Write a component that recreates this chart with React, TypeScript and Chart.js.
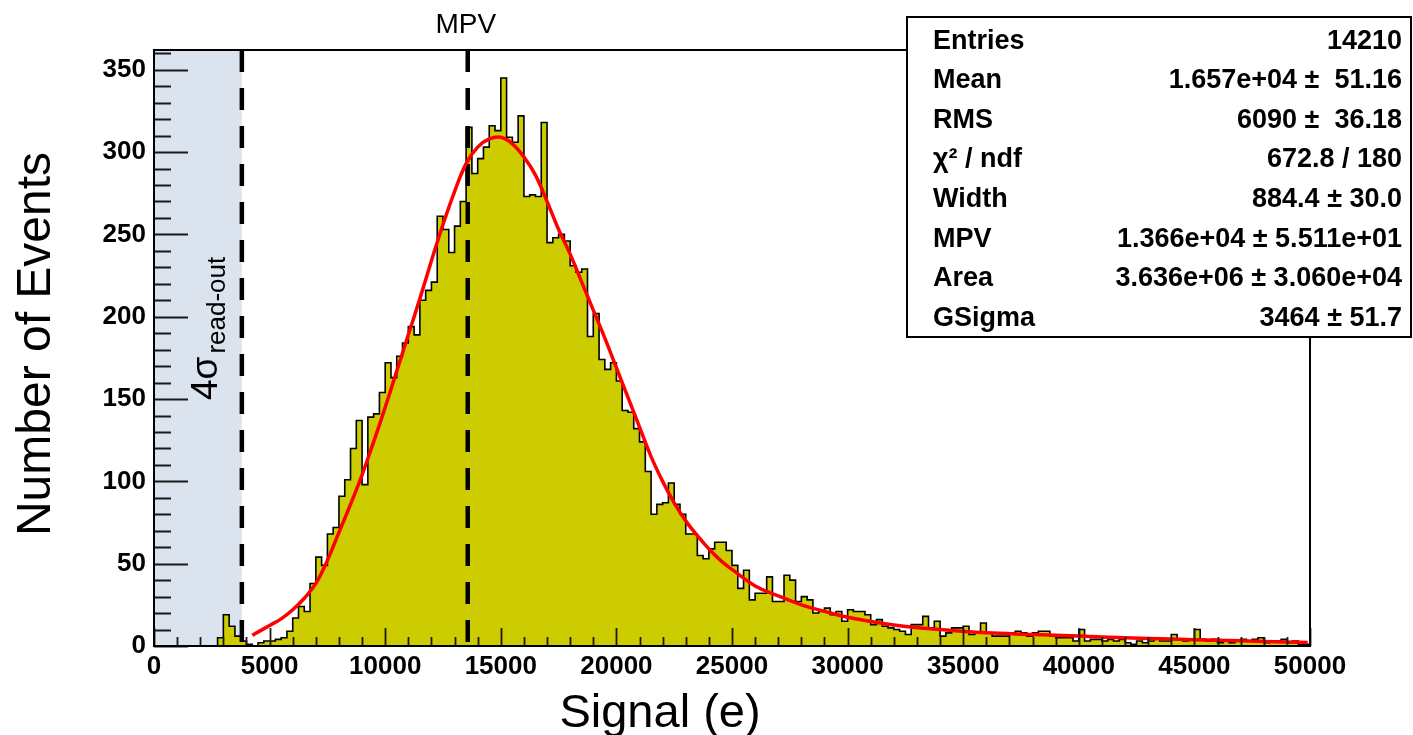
import React, { useEffect, useRef } from 'react';
import { Chart, registerables } from 'chart.js';

Chart.register(...registerables);

// ---------- data ----------
const BIN_WIDTH = 250;
const X_MIN = 0;
const X_MAX = 50000;
const Y_MAX = 362;

// counts per 250 e bin, 0 .. 50000
const counts: number[] = [
  0, 0, 0, 0, 0, 0, 0, 0, 0, 0, 0,
  5, 19, 12, 6, 3, 1, 0, 2, 3, 3,
  4, 5, 9, 17, 24, 21, 38, 54, 49, 68,
  72, 91, 101, 120, 137, 98, 139, 141, 154, 172,
  163, 176, 184, 194, 189, 210, 216, 221, 261, 253,
  239, 255, 270, 315, 287, 296, 303, 316, 313, 345,
  309, 306, 322, 273, 274, 273, 318, 245, 248, 250,
  246, 231, 227, 229, 188, 202, 174, 168, 172, 161,
  143, 142, 132, 124, 106, 80, 86, 87, 99, 86,
  80, 68, 68, 55, 53, 59, 63, 63, 58, 49,
  35, 46, 28, 32, 32, 42, 27, 27, 43, 40,
  27, 30, 28, 20, 21, 23, 19, 21, 15, 22,
  21, 21, 19, 13, 16, 12, 11, 10, 9, 7,
  13, 13, 18, 11, 15, 6, 8, 11, 11, 12,
  7, 8, 14, 8, 6, 6, 6, 8, 9, 8,
  6, 8, 9, 9, 6, 5, 5, 5, 3, 10,
  3, 4, 4, 3, 4, 3, 4, 2, 1, 3,
  2, 3, 5, 3, 3, 7, 4, 3, 4, 10,
  4, 3, 4, 2, 3, 2, 3, 4, 3, 4,
  5, 2, 3, 3, 4, 2, 3, 1, 1,
];

// Landau (x) Gauss fit curve
const fitX: number[] = [
  4250, 5000, 5500, 6000, 6500, 7000, 7500, 8000, 8500, 9000,
  9500, 10000, 10500, 11000, 11500, 12000, 12500, 13000, 13500, 14000, 14500,
  15000, 15500, 16000, 16500, 17000, 17500, 18000, 18500, 19000, 19500,
  20000, 20500, 21000, 21500, 22000, 22500, 23000, 23500, 24000, 24500, 25000,
  26000, 27000, 28000, 29000, 30000,
  32000, 34000, 36000, 38000, 40000, 42000, 44000, 46000, 48000, 49900,
];
const fitY: number[] = [
  6.5, 12.5, 16.5, 22, 29, 38, 52, 69, 86, 104,
  124, 145, 167, 189, 211, 234, 256, 276, 293, 303, 308,
  309, 305, 297, 286, 270, 253, 238, 221, 204, 187,
  169, 151, 133, 115, 100, 87, 76, 67, 59, 52, 46.5,
  36.5, 30.5, 25, 21, 17.5,
  12.8, 10, 8, 7, 6, 5, 4.2, 3.5, 2.8, 2.2,
];

const readoutCut = 3800; // 4 sigma read-out threshold
const mpvLine = 13570;

const statLabels: string[] = ['Entries', 'Mean', 'RMS', 'χ² / ndf', 'Width', 'MPV', 'Area', 'GSigma'];
const statValues: string[] = [
  '14210',
  '1.657e+04 ±  51.16',
  '6090 ±  36.18',
  '672.8 / 180',
  '884.4 ± 30.0',
  '1.366e+04 ± 5.511e+01',
  '3.636e+06 ± 3.060e+04',
  '3464 ± 51.7',
];

const xTitle = 'Signal (e)';
const yTitle = 'Number of Events';
const mpvText = 'MPV';

// ---------- styles ----------
const FONT = '"Liberation Sans", Arial, Helvetica, sans-serif';
const HIST_FILL = 'rgb(204,204,0)';
const SHADE = '#dae3ee';

const decor = {
  id: 'decor',
  beforeDatasetsDraw(chart: any) {
    const { ctx, chartArea: a, scales } = chart;
    const xr = scales.x.getPixelForValue(readoutCut);
    ctx.save();
    ctx.fillStyle = SHADE;
    ctx.fillRect(a.left, a.top, xr - a.left, a.bottom - a.top);
    ctx.restore();
  },
  beforeDatasetDraw(chart: any, args: any) {
    if (args.index !== 0) return;
    const { ctx, chartArea: a, scales } = chart;
    ctx.save();
    ctx.strokeStyle = '#000';
    ctx.lineWidth = 4.5;
    ctx.setLineDash([22, 16]);
    [readoutCut, mpvLine].forEach((v) => {
      const px = scales.x.getPixelForValue(v);
      ctx.beginPath();
      ctx.moveTo(px, a.top);
      ctx.lineTo(px, a.bottom);
      ctx.stroke();
    });
    ctx.restore();
  },
  afterDatasetsDraw(chart: any) {
    const { ctx, chartArea: a, scales } = chart;
    const x = scales.x;
    const y = scales.y;
    ctx.save();
    ctx.strokeStyle = '#1a1a1a';
    ctx.lineWidth = 1.8;
    ctx.beginPath();
    for (let v = X_MIN; v <= X_MAX; v += 1000) {
      const px = Math.round(x.getPixelForValue(v)) + 0.5;
      const len = v % 5000 === 0 ? 18 : 9;
      ctx.moveTo(px, a.bottom);
      ctx.lineTo(px, a.bottom - len);
    }
    for (let v = 0; v <= 360; v += 10) {
      const py = Math.round(y.getPixelForValue(v)) + 0.5;
      const len = v % 50 === 0 ? 34 : 17;
      ctx.moveTo(a.left, py);
      ctx.lineTo(a.left + len, py);
    }
    ctx.stroke();
    ctx.strokeStyle = '#000';
    ctx.lineWidth = 2;
    ctx.strokeRect(a.left, a.top, a.right - a.left, a.bottom - a.top);
    ctx.restore();
  },
  afterDraw(chart: any) {
    const { ctx, scales } = chart;
    ctx.save();
    ctx.fillStyle = '#000';
    // axis titles
    ctx.font = `47px ${FONT}`;
    ctx.textAlign = 'center';
    ctx.textBaseline = 'alphabetic';
    ctx.fillText(xTitle, 660, 727);
    ctx.save();
    ctx.font = `48px ${FONT}`;
    ctx.translate(50, 344);
    ctx.rotate(-Math.PI / 2);
    ctx.fillText(yTitle, 0, 0);
    ctx.restore();

    // MPV label
    ctx.font = `28px ${FONT}`;
    ctx.textAlign = 'center';
    ctx.fillText(mpvText, scales.x.getPixelForValue(mpvLine) - 2, 33);

    // 4 sigma read-out label
    ctx.save();
    ctx.translate(217, 400);
    ctx.rotate(-Math.PI / 2);
    ctx.textAlign = 'left';
    ctx.font = `37px ${FONT}`;
    ctx.fillText('4σ', 0, 0);
    const w = ctx.measureText('4σ').width;
    ctx.font = `26px ${FONT}`;
    ctx.fillText('read-out', w + 3, 8);
    ctx.restore();

    // statistics box
    const bx = 907, by = 17, bw = 504, bh = 320;
    ctx.fillStyle = '#fff';
    ctx.fillRect(bx, by, bw, bh);
    ctx.strokeStyle = '#000';
    ctx.lineWidth = 2;
    ctx.strokeRect(bx, by, bw, bh);
    ctx.fillStyle = '#000';
    ctx.font = `bold 27px ${FONT}`;
    statLabels.forEach((lab, i) => {
      const base = 48.5 + i * 39.6;
      ctx.textAlign = 'left';
      ctx.fillText(lab, 933, base);
      ctx.textAlign = 'right';
      ctx.fillText(statValues[i], 1402, base);
    });
    ctx.restore();
  },
};

export default function App() {
  const ref = useRef<HTMLCanvasElement | null>(null);

  useEffect(() => {
    if (!ref.current) return;
    const histPts = counts.map((c, i) => ({ x: X_MIN + i * BIN_WIDTH, y: c }));
    histPts.push({ x: X_MIN + counts.length * BIN_WIDTH, y: counts[counts.length - 1] });
    const fitPts = fitX.map((v, i) => ({ x: v, y: fitY[i] }));

    const chart = new Chart(ref.current, {
      type: 'line',
      data: {
        datasets: [
          {
            label: 'fit',
            data: fitPts,
            borderColor: 'rgb(255,0,0)',
            borderWidth: 3.5,
            pointRadius: 0,
            fill: false,
            tension: 0.4,
            order: 0,
          },
          {
            label: 'signal',
            data: histPts,
            borderColor: '#000',
            borderWidth: 1.6,
            backgroundColor: HIST_FILL,
            pointRadius: 0,
            stepped: true,
            fill: 'origin',
            order: 1,
          },
        ],
      },
      options: {
        animation: false,
        responsive: false,
        devicePixelRatio: 1,
        events: [],
        layout: { padding: { left: 0, top: 50, right: 103, bottom: 0 } },
        plugins: { legend: { display: false }, tooltip: { enabled: false } },
        scales: {
          x: {
            type: 'linear',
            min: X_MIN,
            max: X_MAX,
            grid: { display: false },
            border: { display: false },
            ticks: {
              stepSize: 5000,
              includeBounds: false,
              maxRotation: 0,
              autoSkip: false,
              padding: -3,
              color: '#000',
              font: { family: FONT, size: 26, weight: 'bold' },
              callback: (v: any) => String(v),
            },
            afterFit: (s: any) => { s.height = 89; },
          },
          y: {
            type: 'linear',
            min: 0,
            max: Y_MAX,
            grid: { display: false },
            border: { display: false },
            ticks: {
              stepSize: 50,
              includeBounds: false,
              padding: 0,
              color: '#000',
              font: { family: FONT, size: 26, weight: 'bold' },
              callback: (v: any) => String(v),
            },
            afterFit: (s: any) => { s.width = 154; },
          },
        },
      },
      plugins: [decor],
    } as any);
    return () => chart.destroy();
  }, []);

  return (
    <div style={{ position: 'absolute', left: 0, top: 0, width: 1413, height: 735, background: '#fff' }}>
      <canvas ref={ref} width={1413} height={735} style={{ display: 'block' }} />
    </div>
  );
}
